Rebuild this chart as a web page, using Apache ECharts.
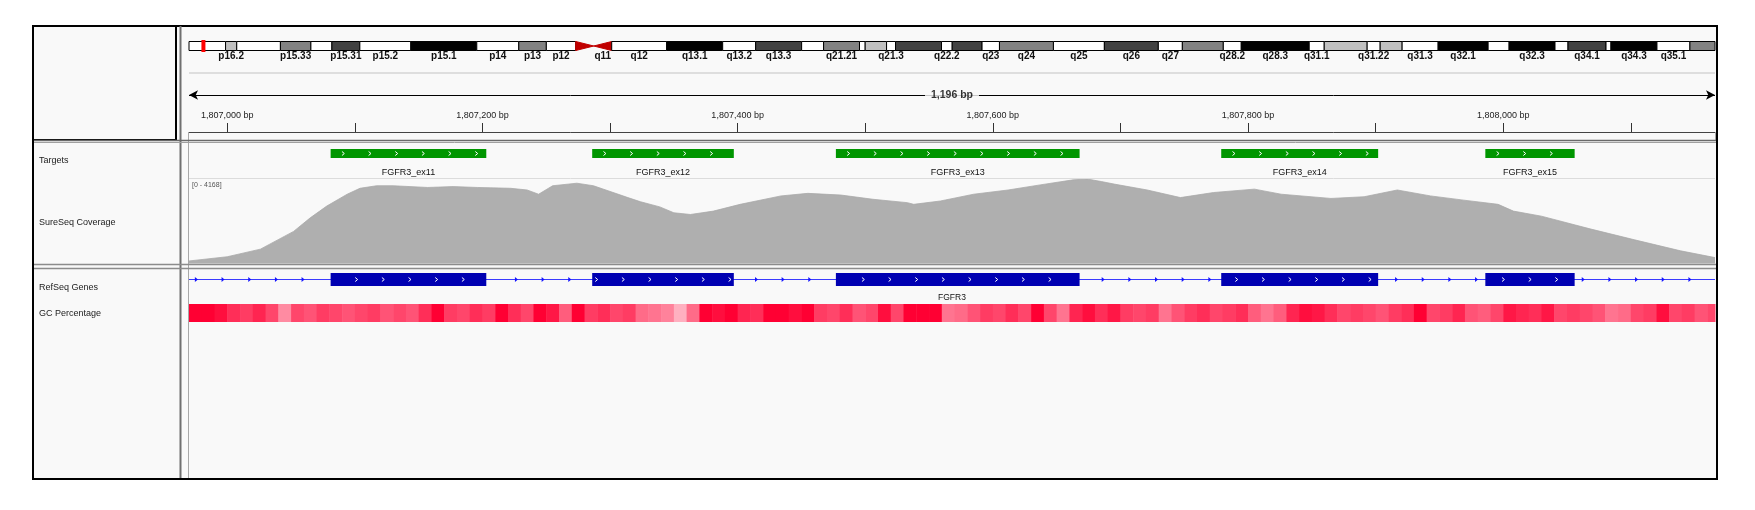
<!DOCTYPE html>
<html>
<head>
<meta charset="utf-8">
<title>FGFR3 coverage</title>
<script src="https://cdn.jsdelivr.net/npm/echarts@6/dist/echarts.min.js"></script>
<style>
html, body { margin: 0; padding: 0; background: #fff; }
#main { width: 1755px; height: 510px; }
</style>
</head>
<body>
<div id="main"></div>
<script>
var FONT = '"Liberation Sans", Arial, sans-serif';

// view window on chr4, bp
var viewStart = 1806970;
var viewEnd = 1808166;
var spanLabel = "1,196 bp";

var rulerTicks = [1807000, 1807100, 1807200, 1807300, 1807400, 1807500, 1807600, 1807700, 1807800, 1807900, 1808000, 1808100];
var rulerLabels = [1807000, 1807200, 1807400, 1807600, 1807800, 1808000];

// chr4 ideogram, band edges in Mb
var chromLength = 191.15;
var bandEdges = [0, 4.58, 5.98, 11.45, 15.27, 17.90, 21.40, 27.79, 36.05, 41.31, 44.76, 48.44, 50.70, 52.95, 59.84, 66.85,
    70.98, 76.74, 79.49, 83.99, 84.70, 87.38, 88.50, 94.26, 95.60, 99.34, 101.52, 108.28, 114.66, 121.42, 124.43, 129.56,
    131.81, 140.32, 142.20, 147.58, 149.21, 151.96, 156.47, 162.73, 165.36, 171.11, 172.74, 177.50, 178.12, 183.88, 188.01, 191.15];
var bandStain = ["gneg", "gpos25", "gneg", "gpos50", "gneg", "gpos75", "gneg", "gpos100", "gneg", "gpos50", "gneg", "acen", "acen",
    "gneg", "gpos100", "gneg", "gpos75", "gneg", "gpos50", "gneg", "gpos25", "gneg", "gpos75", "gneg", "gpos75", "gneg", "gpos50",
    "gneg", "gpos75", "gneg", "gpos50", "gneg", "gpos100", "gneg", "gpos25", "gneg", "gpos25", "gneg", "gpos100", "gneg", "gpos100",
    "gneg", "gpos75", "gneg", "gpos100", "gneg", "gpos50"];
var bandName = ["", "p16.2", "", "p15.33", "", "p15.31", "p15.2", "p15.1", "p14", "p13", "p12", "", "q11",
    "q12", "q13.1", "q13.2", "q13.3", "", "q21.21", "", "", "q21.3", "", "q22.2", "", "q23", "q24",
    "q25", "q26", "q27", "", "q28.2", "q28.3", "q31.1", "", "q31.22", "", "q31.3", "q32.1", "", "q32.3",
    "", "q34.1", "", "q34.3", "q35.1", ""];
var stainColor = {gneg: "#ffffff", gpos25: "#c0c0c0", gpos50: "#828282", gpos75: "#424242", gpos100: "#000000"};

// capture targets
var targetStart = [1807081, 1807286, 1807477, 1807779, 1807986];
var targetEnd = [1807203, 1807397, 1807668, 1807902, 1808056];
var targetName = ["FGFR3_ex11", "FGFR3_ex12", "FGFR3_ex13", "FGFR3_ex14", "FGFR3_ex15"];

// RefSeq gene
var geneName = "FGFR3";
var geneStart = 1795039;
var geneEnd = 1810599;
var exonStart = [1807081, 1807286, 1807477, 1807779, 1807986];
var exonEnd = [1807203, 1807397, 1807668, 1807902, 1808056];

// coverage profile
var covMax = 4168;
var covPos = [1806970, 1807000, 1807026, 1807052, 1807065, 1807078, 1807094, 1807104, 1807117, 1807130,
    1807157, 1807177, 1807196, 1807222, 1807235, 1807244, 1807255, 1807274, 1807287, 1807314,
    1807324, 1807339, 1807350, 1807363, 1807381, 1807402, 1807434, 1807455, 1807481, 1807506,
    1807533, 1807538, 1807559, 1807585, 1807612, 1807637, 1807663, 1807674, 1807685, 1807695,
    1807721, 1807747, 1807773, 1807805, 1807826, 1807865, 1807891, 1807917, 1807943, 1807969,
    1807996, 1808008, 1808030, 1808068, 1808103, 1808139, 1808166];
var covDepth = [125, 333, 709, 1584, 2251, 2834, 3418, 3710, 3835, 3835,
    3751, 3793, 3751, 3710, 3626, 3418, 3835, 3960, 3835, 3251,
    3043, 2793, 2501, 2417, 2584, 2918, 3334, 3459, 3376, 3168,
    3001, 2918, 3084, 3418, 3626, 3876, 4126, 4168, 4043, 3918,
    3626, 3251, 3501, 3668, 3418, 3209, 3293, 3626, 3334, 3126,
    2918, 2584, 2334, 1709, 1167, 625, 292];

// GC percentage, 10 bp bins from viewStart
var gcStep = 10;
var gcPercent = [70, 72, 67, 60, 57, 62, 55, 40, 55, 52, 57, 55, 52, 55, 57, 52, 55, 52, 60, 72,
    57, 55, 60, 57, 72, 60, 55, 72, 65, 50, 70, 57, 60, 55, 57, 47, 45, 42, 32, 47,
    70, 67, 70, 62, 60, 70, 72, 67, 70, 57, 55, 60, 52, 55, 67, 55, 72, 75, 70, 45,
    47, 52, 57, 55, 60, 55, 72, 55, 45, 62, 67, 60, 65, 57, 55, 57, 45, 52, 57, 60,
    55, 57, 60, 50, 45, 50, 62, 67, 65, 60, 55, 57, 55, 52, 57, 60, 70, 55, 57, 62,
    52, 50, 55, 65, 62, 60, 65, 55, 57, 55, 52, 45, 47, 55, 57, 67, 55, 57, 52, 55];

var trackNames = ["Targets", "SureSeq Coverage", "RefSeq Genes", "GC Percentage"];
var trackNameY = [161, 223, 288, 314];

var arrowGap = 26.67;  // strand arrow spacing in px

var chart = echarts.init(document.getElementById("main"), null, {width: 1755, height: 510});

var L = 189, R = 1755 - 1715;
var gridBoxes = [
    {top: 41.5, height: 9},     // ideogram
    {top: 110, height: 22},     // ruler
    {top: 90, height: 10},      // span arrow
    {top: 149, height: 9},      // targets
    {top: 179, height: 84.5},   // coverage
    {top: 273, height: 13},     // genes
    {top: 304, height: 18}      // gc
];
var grids = gridBoxes.map(function (g) {
    return {left: L, right: R, top: g.top, height: g.height, show: false, containLabel: false, outerBoundsMode: "none"};
});

var xAxes = gridBoxes.map(function (g, i) {
    return {type: "value", gridIndex: i, min: viewStart, max: viewEnd, show: false};
});
xAxes[0].min = 0;
xAxes[0].max = chromLength;
xAxes[1] = {
    type: "value", gridIndex: 1, min: viewStart, max: viewEnd, position: "bottom",
    axisLine: {show: true, lineStyle: {color: "#444", width: 1}},
    axisTick: {show: true, inside: true, length: 9, customValues: rulerTicks, lineStyle: {color: "#333", width: 1}},
    axisLabel: {show: true, inside: true, margin: 12, customValues: rulerLabels, fontSize: 9, fontFamily: FONT, color: "#222",
        formatter: function (v) { return v.toLocaleString("en-US") + " bp"; }},
    splitLine: {show: false}
};
var yAxes = gridBoxes.map(function (g, i) {
    return {type: "value", gridIndex: i, min: 0, max: 1, show: false};
});
yAxes[4].max = covMax;

var bandData = [];
for (var i = 0; i < bandStain.length; i++) {
    bandData.push([bandEdges[i], bandEdges[i + 1]]);
}
var targetData = [];
for (var i = 0; i < targetStart.length; i++) {
    targetData.push([targetStart[i], targetEnd[i]]);
}
var covData = [];
for (var i = 0; i < covPos.length; i++) {
    covData.push([covPos[i], covDepth[i]]);
}
var gcData = [];
for (var i = 0; i < gcPercent.length; i++) {
    gcData.push([viewStart + i * gcStep, viewStart + (i + 1) * gcStep, gcPercent[i]]);
}

function chevron(cx, cy, color) {
    return {type: "polyline", shape: {points: [[cx - 1.2, cy - 2], [cx + 1.2, cy], [cx - 1.2, cy + 2]]},
        style: {stroke: color, fill: "none", lineWidth: 1}};
}

function textEl(str, x, y, size, weight) {
    return {type: "text", style: {text: str, x: x, y: y, align: "center", verticalAlign: "middle",
        fontSize: size, fontWeight: weight || "normal", fontFamily: FONT, fill: "#111"}};
}

function renderBand(params, api) {
    var i = params.dataIndex, cs = params.coordSys;
    var x0 = api.coord([api.value(0), 0])[0];
    var x1 = api.coord([api.value(1), 0])[0];
    var top = cs.y, h = cs.height, mid = top + h / 2;
    var children = [];
    if (bandStain[i] == "acen") {
        var pts = (bandStain[i + 1] == "acen") ? [[x0, top], [x1, mid], [x0, top + h]] : [[x1, top], [x0, mid], [x1, top + h]];
        children.push({type: "polygon", shape: {points: pts}, style: {fill: "#c00000", stroke: "#c00000", lineWidth: 1}});
    } else {
        children.push({type: "rect", shape: {x: x0, y: top, width: x1 - x0, height: h},
            style: {fill: stainColor[bandStain[i]], stroke: "#000", lineWidth: 1}});
    }
    if (bandName[i]) {
        children.push(textEl(bandName[i], (x0 + x1) / 2, top + h + 6, 10, "bold"));
    }
    return {type: "group", children: children};
}

function renderMarker(params, api) {
    var cs = params.coordSys;
    var x0 = api.coord([api.value(0), 0])[0];
    var x1 = api.coord([api.value(1), 0])[0];
    var w = Math.max(4, x1 - x0), cx = (x0 + x1) / 2;
    return {type: "rect", shape: {x: cx - w / 2, y: cs.y - 1.5, width: w, height: cs.height + 3}, style: {fill: "#ff0000"}};
}

function renderTarget(params, api) {
    var i = params.dataIndex, cs = params.coordSys;
    var x0 = api.coord([api.value(0), 0])[0];
    var x1 = api.coord([api.value(1), 0])[0];
    var cy = cs.y + cs.height / 2;
    var children = [{type: "rect", shape: {x: x0, y: cs.y, width: x1 - x0, height: cs.height}, style: {fill: "#009600"}}];
    for (var cx = x0 + 12.5; cx < x1 - 6; cx += arrowGap) {
        children.push(chevron(cx, cy, "#ffffff"));
    }
    children.push(textEl(targetName[i], (x0 + x1) / 2, cs.y + cs.height + 15, 9));
    return {type: "group", children: children};
}

function renderGene(params, api) {
    var cs = params.coordSys;
    var gx0 = Math.max(cs.x, api.coord([api.value(0), 0])[0]);
    var gx1 = Math.min(cs.x + cs.width, api.coord([api.value(1), 0])[0]);
    var cy = cs.y + cs.height / 2;
    var children = [{type: "line", shape: {x1: gx0, y1: cy, x2: gx1, y2: cy}, style: {stroke: "#3a3aff", lineWidth: 1}}];
    var boxes = [];
    for (var k = 0; k < exonStart.length; k++) {
        var b0 = api.coord([exonStart[k], 0])[0], b1 = api.coord([exonEnd[k], 0])[0];
        boxes.push([b0, b1]);
        children.push({type: "rect", shape: {x: b0, y: cs.y, width: b1 - b0, height: cs.height}, style: {fill: "#0000b2"}});
    }
    for (var cx = gx0 + 7.4; cx < gx1 - 2; cx += arrowGap) {
        var hit = null;
        for (var k = 0; k < boxes.length; k++) {
            if (cx > boxes[k][0] - 4 && cx < boxes[k][1] + 4) hit = boxes[k];
        }
        if (!hit) {
            children.push({type: "polygon", shape: {points: [[cx - 1.5, cy - 2.5], [cx + 1.5, cy], [cx - 1.5, cy + 2.5]]}, style: {fill: "#1414ff"}});
        } else if (cx > hit[0] + 4 && cx < hit[1] - 4) {
            children.push(chevron(cx, cy, "#ffffff"));
        }
    }
    children.push(textEl(geneName, (gx0 + gx1) / 2, cs.y + cs.height + 12, 8.5));
    return {type: "group", children: children};
}

function renderGC(params, api) {
    var cs = params.coordSys;
    var x0 = Math.max(cs.x, api.coord([api.value(0), 0])[0]);
    var x1 = Math.min(cs.x + cs.width, api.coord([api.value(1), 0])[0]);
    return {type: "rect", shape: {x: x0, y: cs.y, width: x1 - x0 + 0.5, height: cs.height}, style: {fill: api.visual("color")}};
}

var graphics = [
    {type: "rect", z: -100, shape: {x: 33, y: 26, width: 1684, height: 453}, style: {fill: "#f9f9f9", stroke: "#000", lineWidth: 2}},
    {type: "rect", z: 100, shape: {x: 33, y: 26, width: 143, height: 114}, style: {fill: "none", stroke: "#000", lineWidth: 2}},
    {type: "line", z: 100, shape: {x1: 180.5, y1: 26, x2: 180.5, y2: 478}, style: {stroke: "#707070", lineWidth: 2}},
    {type: "line", z: 100, shape: {x1: 188.5, y1: 132, x2: 188.5, y2: 478}, style: {stroke: "#a8a8a8", lineWidth: 1}},
    {type: "line", z: 100, shape: {x1: 1715.5, y1: 132, x2: 1715.5, y2: 141}, style: {stroke: "#a8a8a8", lineWidth: 1}},
    {type: "line", z: 100, shape: {x1: 189, y1: 73, x2: 1715, y2: 73}, style: {stroke: "#dedede", lineWidth: 2}},
    {type: "line", z: 100, shape: {x1: 34, y1: 140.5, x2: 1716, y2: 140.5}, style: {stroke: "#6a6a6a", lineWidth: 1.5}},
    {type: "line", z: 100, shape: {x1: 34, y1: 142.5, x2: 1716, y2: 142.5}, style: {stroke: "#a0a0a0", lineWidth: 1}},
    {type: "line", z: 100, shape: {x1: 189, y1: 178.5, x2: 1715, y2: 178.5}, style: {stroke: "#dcdcdc", lineWidth: 1}},
    {type: "line", z: 100, shape: {x1: 34, y1: 264.5, x2: 1716, y2: 264.5}, style: {stroke: "#8c8c8c", lineWidth: 1.5}},
    {type: "line", z: 100, shape: {x1: 34, y1: 268.5, x2: 1716, y2: 268.5}, style: {stroke: "#8c8c8c", lineWidth: 1.5}},
    {type: "text", z: 100, style: {text: "[0 - " + covMax + "]", x: 192, y: 185, verticalAlign: "middle", fontSize: 7, fontFamily: FONT, fill: "#555"}}
];
for (var i = 0; i < trackNames.length; i++) {
    graphics.push({type: "text", z: 100, style: {text: trackNames[i], x: 39, y: trackNameY[i], verticalAlign: "middle",
        fontSize: 9, fontFamily: FONT, fill: "#222"}});
}

chart.setOption({
    animation: false,
    backgroundColor: "#ffffff",
    grid: grids,
    xAxis: xAxes,
    yAxis: yAxes,
    visualMap: {type: "continuous", show: false, seriesIndex: 7, dimension: 2, min: 15, max: 70,
        inRange: {color: ["#ffffff", "#ff0033"]}},
    graphic: graphics,
    series: [
        {type: "custom", xAxisIndex: 0, yAxisIndex: 0, renderItem: renderBand, data: bandData, silent: true},
        {type: "custom", xAxisIndex: 0, yAxisIndex: 0, renderItem: renderMarker, data: [[viewStart / 1e6, viewEnd / 1e6]], silent: true, z: 3},
        {type: "line", xAxisIndex: 2, yAxisIndex: 2, data: [], silent: true,
            markLine: {silent: true, symbol: ["arrow", "arrow"], symbolSize: [7, 9],
                lineStyle: {color: "#000", width: 1, type: "solid"}, label: {show: false},
                data: [[{coord: [viewStart, 0.5]}, {coord: [viewEnd, 0.5]}]]}},
        {type: "scatter", xAxisIndex: 2, yAxisIndex: 2, z: 5, symbolSize: 0, silent: true,
            data: [[(viewStart + viewEnd) / 2, 0.5]],
            label: {show: true, position: "inside", formatter: spanLabel, fontSize: 10.5, fontWeight: "bold", fontFamily: FONT,
                color: "#000", backgroundColor: "#f9f9f9", padding: [1, 6]}},
        {type: "custom", xAxisIndex: 3, yAxisIndex: 3, renderItem: renderTarget, data: targetData, silent: true},
        {type: "line", xAxisIndex: 4, yAxisIndex: 4, data: covData, showSymbol: false, silent: true,
            lineStyle: {width: 0.8, color: "#a9a9a9"}, areaStyle: {color: "#afafaf", opacity: 1}},
        {type: "custom", xAxisIndex: 5, yAxisIndex: 5, renderItem: renderGene, data: [[geneStart, geneEnd]], silent: true},
        {type: "custom", xAxisIndex: 6, yAxisIndex: 6, renderItem: renderGC, data: gcData, silent: true}
    ]
});
</script>
</body>
</html>
